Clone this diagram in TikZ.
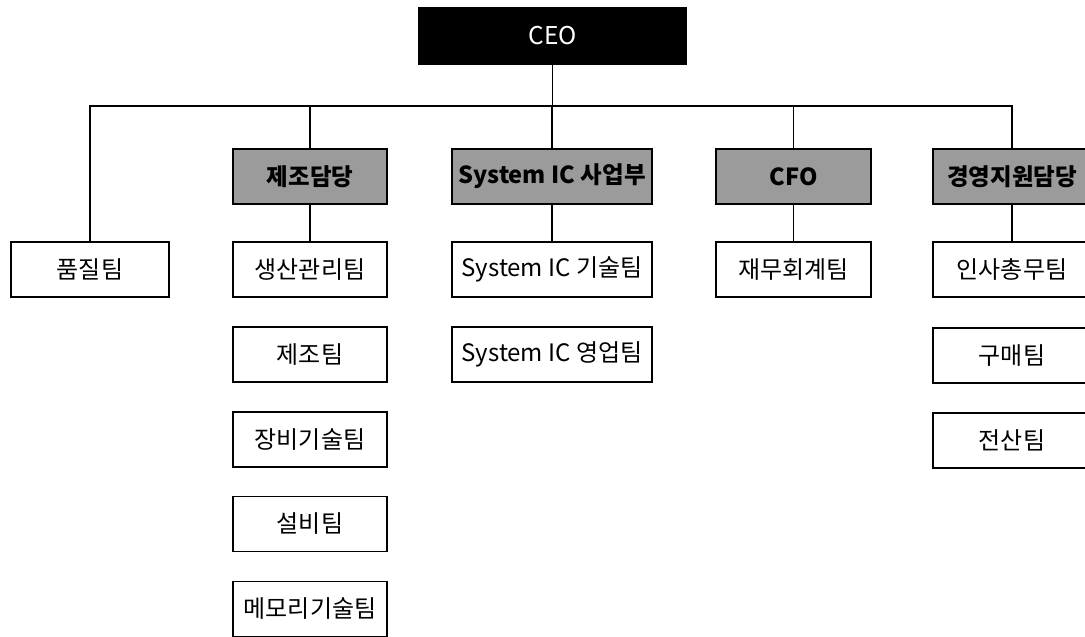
\documentclass[tikz,border=0pt]{standalone}
\usepackage{fontspec}
\setmainfont{Noto Sans CJK KR}
\newfontfamily\krfont{Noto Sans CJK KR}
\definecolor{deptgray}{RGB}{155,155,155}
\tikzset{
  box/.style={draw=black, line width=1.8pt, rectangle, inner sep=0pt, align=center,
    minimum height=55pt, font=\krfont\fontsize{24}{27}\selectfont},
  teambox/.style={box, fill=white},
  deptbox/.style={box, fill=deptgray, font=\krfont\bfseries\fontsize{23.5}{26}\selectfont},
  ceobox/.style={box, fill=black, text=white, minimum height=56pt, font=\krfont\fontsize{24.5}{27}\selectfont},
  link/.style={draw=black, line width=1.6pt}
}
\begin{document}
\begin{tikzpicture}[x=1pt, y=-1pt]
\useasboundingbox (0,0) rectangle (1085,637);
% CEO
\node[ceobox, minimum width=267pt] (ceo) at (552.5,36) {CEO};
% bus coordinates
\coordinate (busL) at (89,106);
\coordinate (busR) at (1012,106);
% level 2
\node[teambox, minimum width=158pt] (qual) at (90,269.5) {품질팀};
\node[deptbox, minimum width=154pt] (mfg) at (310,176.5) {제조담당};
\node[deptbox, minimum width=200pt] (sysic) at (552,176.5) {System IC 사업부};
\node[deptbox, minimum width=155pt] (cfo) at (793.5,176.5) {CFO};
\node[deptbox, minimum width=158pt] (mgmt) at (1012,176.5) {경영지원담당};
% manufacturing teams
\node[teambox, minimum width=154pt] (prod) at (310,269.5) {생산관리팀};
\node[teambox, minimum width=154pt] (make) at (310,354.5) {제조팀};
\node[teambox, minimum width=154pt] (equip) at (310,439.5) {장비기술팀};
\node[teambox, minimum width=154pt] (facil) at (310,524) {설비팀};
\node[teambox, minimum width=154pt] (mem) at (310,609) {메모리기술팀};
% system IC teams
\node[teambox, minimum width=200pt] (tech) at (552,269.5) {System IC 기술팀};
\node[teambox, minimum width=200pt] (sales) at (552,354.5) {System IC 영업팀};
% CFO teams
\node[teambox, minimum width=155pt] (acct) at (793.5,269.5) {재무회계팀};
% management teams
\node[teambox, minimum width=158pt] (hr) at (1012,269.5) {인사총무팀};
\node[teambox, minimum width=158pt] (buy) at (1012,355.5) {구매팀};
\node[teambox, minimum width=158pt] (it) at (1012,440.5) {전산팀};
% connectors
\draw[link] (ceo.south) -- (ceo.south |- busL);
\draw[link] (qual.north) |- (busR) -- (mgmt.north);
\draw[link] (mfg.north) -- (mfg.north |- busL);
\draw[link] (sysic.north) -- (sysic.north |- busL);
\draw[link] (cfo.north) -- (cfo.north |- busL);
\draw[link] (mfg.south) -- (prod.north);
\draw[link] (sysic.south) -- (tech.north);
\draw[link] (cfo.south) -- (acct.north);
\draw[link] (mgmt.south) -- (hr.north);
\end{tikzpicture}
\end{document}
